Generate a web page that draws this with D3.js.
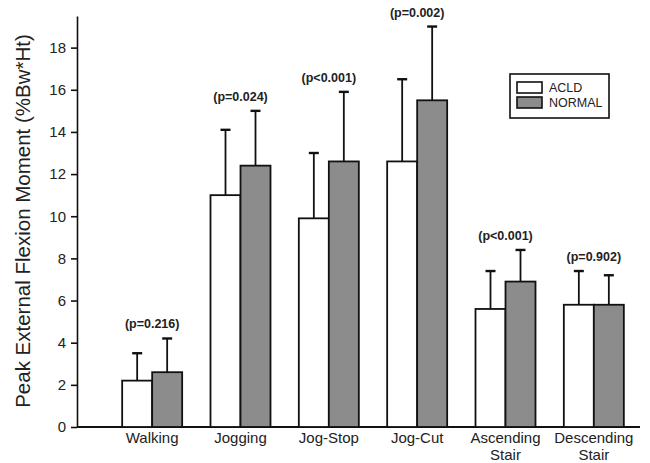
<!DOCTYPE html>
<html>
<head>
<meta charset="utf-8">
<script src="https://cdn.jsdelivr.net/npm/d3@7"></script>
<style>
  body { margin: 0; background: #fff; }
  svg { display: block; font-family: "Liberation Sans", Arial, sans-serif; }
</style>
</head>
<body>
<svg id="chart" width="650" height="463"></svg>
<script>
// categories (multi-line labels split by "\n")
const categories = ["Walking", "Jogging", "Jog-Stop", "Jog-Cut", "Ascending\nStair", "Descending\nStair"];
const series = ["ACLD", "NORMAL"];
const acldMean = [2.2, 11.0, 9.9, 12.6, 5.6, 5.8];
const acldSD = [1.3, 3.1, 3.1, 3.9, 1.8, 1.6];
const normalMean = [2.6, 12.4, 12.6, 15.5, 6.9, 5.8];
const normalSD = [1.6, 2.6, 3.3, 3.5, 1.5, 1.4];
const pLabels = ["(p=0.216)", "(p=0.024)", "(p<0.001)", "(p=0.002)", "(p<0.001)", "(p=0.902)"];
const yTicks = [0, 2, 4, 6, 8, 10, 12, 14, 16, 18];

const WIDTH = 650, HEIGHT = 463;
const MARGINS = { top: 16, right: 12, bottom: 36, left: 77 };
const BAR_W = 30;

const svg = d3.select("#chart");

const rows = categories.map((c, i) => ({
  cat: c,
  vals: [
    { key: "ACLD", mean: acldMean[i], sd: acldSD[i] },
    { key: "NORMAL", mean: normalMean[i], sd: normalSD[i] }
  ],
  p: pLabels[i]
}));

// ---- scales -------------------------
const x = d3.scaleBand()
  .domain(categories)
  .range([108, 638]);

const xSub = d3.scaleBand()
  .domain(series)
  .range([x.bandwidth() / 2 - BAR_W, x.bandwidth() / 2 + BAR_W]);

const y = d3.scaleLinear()
  .domain([0, 19.5])
  .range([HEIGHT - MARGINS.bottom, MARGINS.top]);

const fill = d3.scaleOrdinal().domain(series).range(["#ffffff", "#8c8c8c"]);

// ---- y axis -------------------------
const yAxis = svg.append("g")
  .attr("transform", `translate(${MARGINS.left},0)`)
  .call(d3.axisLeft(y).tickValues(yTicks).tickSize(6).tickPadding(5).tickSizeOuter(0));
yAxis.select(".domain").attr("stroke", "#111").attr("stroke-width", 1.6);
yAxis.selectAll(".tick line").attr("stroke", "#111").attr("stroke-width", 1.6);
yAxis.selectAll(".tick text").attr("font-size", 15).attr("fill", "#222")
  .attr("font-family", "'Liberation Sans', Arial, sans-serif");

// x axis line
svg.append("line")
  .attr("x1", MARGINS.left).attr("x2", WIDTH - MARGINS.right + 2)
  .attr("y1", y(0)).attr("y2", y(0))
  .attr("stroke", "#111").attr("stroke-width", 1.8);

// ---- groups -------------------------
const groups = svg.append("g").selectAll("g.group")
  .data(rows)
  .join("g")
  .attr("class", "group")
  .attr("transform", d => `translate(${x(d.cat)},0)`);

// error bars (one-sided, upward)
groups.selectAll("g.err")
  .data(d => d.vals)
  .join("g")
  .attr("class", "err")
  .each(function (d) {
    const g = d3.select(this);
    const cx = xSub(d.key) + xSub.bandwidth() / 2;
    g.append("line")
      .attr("x1", cx).attr("x2", cx)
      .attr("y1", y(d.mean)).attr("y2", y(d.mean + d.sd))
      .attr("stroke", "#111").attr("stroke-width", 1.8);
    g.append("line")
      .attr("x1", cx - 5).attr("x2", cx + 5)
      .attr("y1", y(d.mean + d.sd)).attr("y2", y(d.mean + d.sd))
      .attr("stroke", "#111").attr("stroke-width", 2.4);
  });

groups.selectAll("rect")
  .data(d => d.vals)
  .join("rect")
  .attr("x", d => xSub(d.key))
  .attr("width", xSub.bandwidth())
  .attr("y", d => y(d.mean))
  .attr("height", d => y(0) - y(d.mean))
  .attr("fill", d => fill(d.key))
  .attr("stroke", "#111")
  .attr("stroke-width", 1.8);

// p-value labels
groups.append("text")
  .attr("x", x.bandwidth() / 2)
  .attr("y", d => y(d3.max(d.vals, v => v.mean + v.sd)) - 10)
  .attr("text-anchor", "middle")
  .attr("font-size", 12.5)
  .attr("font-weight", "bold")
  .attr("fill", "#222")
  .text(d => d.p);

// category labels
groups.append("text")
  .attr("text-anchor", "middle")
  .attr("font-size", 15)
  .attr("fill", "#222")
  .attr("y", y(0) + 15.5)
  .selectAll("tspan")
  .data(d => d.cat.split("\n"))
  .join("tspan")
  .attr("x", x.bandwidth() / 2)
  .attr("dy", (d, i) => i === 0 ? 0 : 17)
  .text(d => d);

// y axis title
svg.append("text")
  .attr("transform", "translate(30,221) rotate(-90)")
  .attr("text-anchor", "middle")
  .attr("font-size", 20.5)
  .attr("fill", "#222")
  .text("Peak External Flexion Moment (%Bw*Ht)");

// ---- legend -------------------------
const legend = svg.append("g").attr("transform", "translate(510,74)");
legend.append("rect")
  .attr("width", 99).attr("height", 44)
  .attr("fill", "#fff").attr("stroke", "#111").attr("stroke-width", 1.6);
legend.selectAll("g.item")
  .data(series)
  .join("g")
  .attr("class", "item")
  .attr("transform", (d, i) => `translate(7,${8 + i * 15})`)
  .each(function (d) {
    const g = d3.select(this);
    g.append("rect").attr("width", 25).attr("height", 11)
      .attr("fill", fill(d)).attr("stroke", "#111").attr("stroke-width", 1.6);
    g.append("text").attr("x", 32).attr("y", 10)
      .attr("font-size", 12.5).attr("fill", "#222").text(d);
  });
</script>
</body>
</html>
